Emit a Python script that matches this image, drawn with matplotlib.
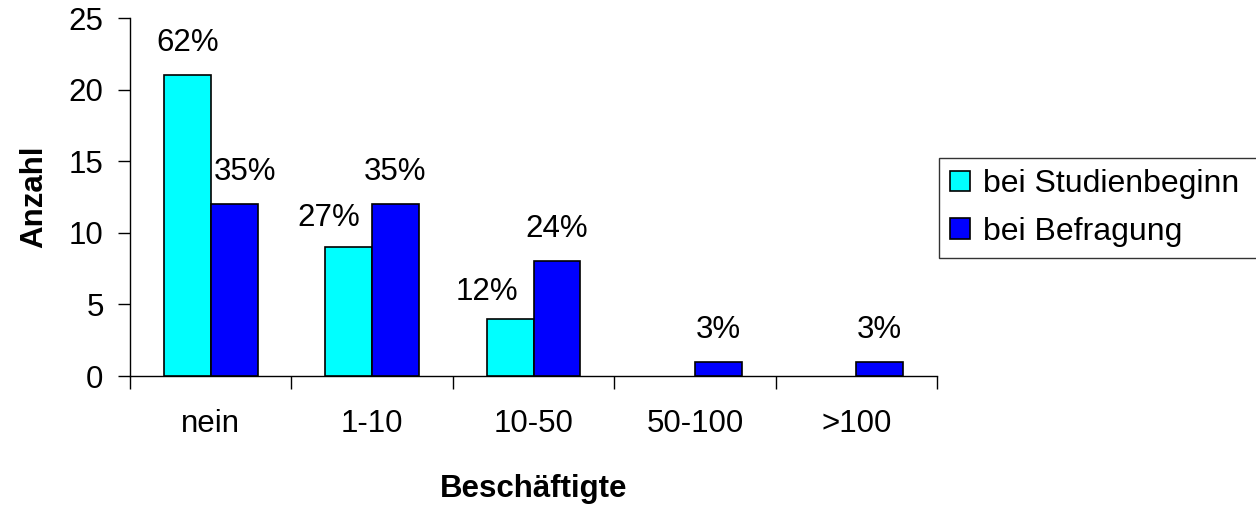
import matplotlib
matplotlib.use("Agg")
import matplotlib.pyplot as plt
import numpy as np

categories = ["nein", "1-10", "10-50", "50-100", ">100"]
studienbeginn = [21, 9, 4, 0, 0]
befragung = [12, 12, 8, 1, 1]
labels_studienbeginn = ["62%", "27%", "12%", "", ""]
labels_befragung = ["35%", "35%", "24%", "3%", "3%"]
yticks = [0, 5, 10, 15, 20, 25]

# label placement nudges (pixels), mimicking the original layout
offsets_studienbeginn = [(0, 32), (-20, 29), (-23, 27), (0, 32), (0, 32)]
offsets_befragung = [(11, 32), (0, 32), (0, 32), (0, 32), (0, 32)]

plt.rcParams['font.family'] = ['Liberation Sans', 'DejaVu Sans']

FS = 22.5
fig = plt.figure(figsize=(12.56, 5.09), dpi=100)
ax = fig.add_axes([130/1256, 1-376/509, (937-130)/1256, (376-18)/509])

x = np.arange(len(categories))
w = 0.29
b1 = ax.bar(x - w/2, studienbeginn, w, color="#00FFFF", edgecolor="black", linewidth=1.2,
            label="bei Studienbeginn", zorder=3)
b2 = ax.bar(x + w/2, befragung, w, color="#0000FF", edgecolor="black", linewidth=1.2,
            label="bei Befragung", zorder=3)
for bars in (b1, b2):
    for rect in bars:
        if rect.get_height() == 0:
            rect.set_visible(False)

for bars, labs, offs in ((b1, labels_studienbeginn, offsets_studienbeginn),
                         (b2, labels_befragung, offsets_befragung)):
    for rect, lab, off in zip(bars, labs, offs):
        if lab:
            ax.annotate(lab, (rect.get_x() + rect.get_width()/2, rect.get_height()),
                        xytext=off, textcoords="offset pixels",
                        ha="center", va="center", fontsize=FS)

ax.set_xlim(-0.5, len(categories) - 0.5)
ax.set_ylim(0, 25)
ax.set_yticks(yticks)
ax.set_yticklabels([str(t) for t in yticks], fontsize=FS)
ax.tick_params(axis="y", direction="out", length=9, width=1, pad=10)
ax.set_xticks(np.arange(len(categories) + 1) - 0.5)
ax.set_xticklabels([])
ax.set_xticks(x, minor=True)
ax.set_xticklabels(categories, minor=True, fontsize=FS)
ax.tick_params(axis="x", which="major", direction="out", length=9, width=1)
ax.tick_params(axis="x", which="minor", length=0, pad=24)
for s in ("top", "right"):
    ax.spines[s].set_visible(False)
ax.spines["left"].set_linewidth(1)
ax.spines["bottom"].set_linewidth(1)

ax.set_ylabel("Anzahl", fontsize=FS, fontweight="bold", labelpad=14)
ax.set_xlabel("Beschäftigte", fontsize=FS, fontweight="bold", labelpad=25)

leg_top = 1 - 158/509
leg = fig.legend(loc="upper left", bbox_to_anchor=(939/1256, leg_top - 0.3, (1264-939)/1256, 0.3),
                 mode="expand", fontsize=23,
                 frameon=True, fancybox=False, edgecolor="black", handlelength=0.62,
                 handleheight=0.62, handletextpad=0.4, borderpad=0.35, labelspacing=0.55,
                 borderaxespad=0)
leg.get_frame().set_linewidth(1)

fig.savefig("out.png", dpi=100)
